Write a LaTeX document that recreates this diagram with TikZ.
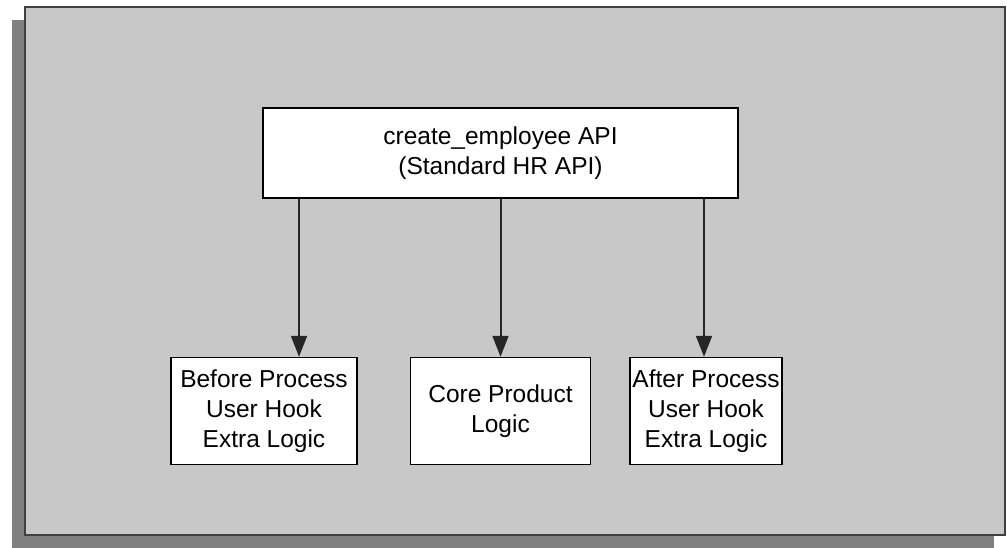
\documentclass[tikz,border=0pt]{standalone}
\usepackage{fontspec}
\setmainfont{Liberation Sans}
\usepackage{xcolor}
\definecolor{panelgray}{RGB}{200,200,200}
\definecolor{shadegray}{RGB}{128,128,128}
\definecolor{edgegray}{RGB}{64,64,64}
\usetikzlibrary{arrows.meta,positioning}

\begin{document}
\begin{tikzpicture}[
  x=1pt,y=-1pt,
  hbox/.style={rectangle,draw=black,line width=1.5pt,fill=white,align=center,inner sep=0pt,font=\fontsize{24.5}{30}\selectfont},
  arrow/.style={-{Triangle[length=21pt,width=16pt]},line width=2pt,draw=black!85,fill=black}
]
  \useasboundingbox (0,0) rectangle (1007,548);

  % Panel with shadow
  \fill[shadegray] (12,20) rectangle (994,548);
  \draw[fill=panelgray,draw=edgegray,line width=2pt] (25,7) rectangle (1005,535);

  % API box
  \node[hbox,minimum width=475pt,minimum height=90pt] (api) at (500.5,153) {create\_employee API\\(Standard HR API)};

  % Hook boxes
  \node[hbox,minimum width=180pt,minimum height=107pt,below=158pt of api.south,anchor=north] (core) {Core Product\\Logic};
  \node[hbox,minimum width=186pt,minimum height=107pt,left=52pt of core] (before) {Before Process\\User Hook\\Extra Logic};
  \node[hbox,minimum width=152pt,minimum height=107pt,right=38pt of core] (after) {After Process\\User Hook\\Extra Logic};

  \coordinate (bh) at ([xshift=35pt]before.north);
  \draw[arrow] (bh |- api.south) -- (bh);
  \draw[arrow] (core.north |- api.south) -- (core.north);
  \draw[arrow] ([xshift=-2pt]after.north |- api.south) -- ([xshift=-2pt]after.north);
\end{tikzpicture}
\end{document}
